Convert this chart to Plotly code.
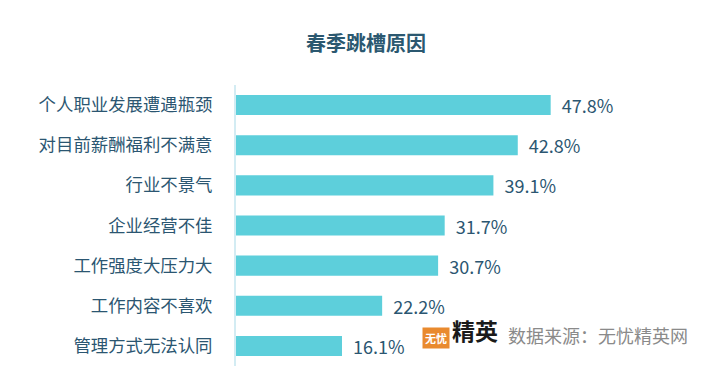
import plotly.graph_objects as go

categories = ["个人职业发展遭遇瓶颈", "对目前薪酬福利不满意", "行业不景气", "企业经营不佳",
              "工作强度大压力大", "工作内容不喜欢", "管理方式无法认同"]
values = [47.8, 42.8, 39.1, 31.7, 30.7, 22.2, 16.1]
title = "春季跳槽原因"
source = "数据来源：无忧精英网"

FONT = "Noto Sans CJK SC"
TXT = "#2b5671"

# page offset compensation (body margin 8px)
OFF = 8
L, T, PW, PH = 236 - OFF, 85 - OFF, 395, 281
W, H = 726, 386


def px(x):
    return (x - OFF - L) / PW


def py(y):
    return (H - (y - OFF) - (H - T - PH)) / PH


fig = go.Figure()
fig.add_trace(go.Bar(
    y=categories, x=values, orientation="h",
    marker=dict(color="#5dcfdb", line=dict(width=0)),
    width=0.5,
    text=[f"{v:.1f}%" for v in values],
    texttemplate="  %{text}",
    textposition="outside",
    constraintext="none",
    textfont=dict(family=FONT, size=18, color=TXT),
    cliponaxis=False,
    hoverinfo="skip",
))

fig.update_layout(
    width=W, height=H,
    margin=dict(l=L, r=W - L - PW, t=T, b=H - T - PH),
    paper_bgcolor="white", plot_bgcolor="white",
    showlegend=False,
    title=dict(text=f"<b>{title}</b>", x=(366 - OFF) / W, xanchor="center", xref="container",
               y=1 - (44 - OFF) / H, yanchor="middle", yref="container",
               font=dict(family=FONT, size=20, color="#2b5870")),
    xaxis=dict(range=[0, 60], visible=False, fixedrange=True),
    yaxis=dict(categoryorder="array", categoryarray=categories, autorange="reversed",
               showline=True, linecolor="#d3ecf3", linewidth=2, ticks="",
               ticklabelstandoff=18, showgrid=False,
               tickfont=dict(family=FONT, size=17.4, color=TXT)),
)

# logo + source
fig.add_annotation(xref="paper", yref="paper", x=px(436), y=py(349),
                   text="<b>无忧</b>", showarrow=False, bgcolor="#e98a2e",
                   font=dict(family=FONT, size=11, color="white"), borderpad=2)
fig.add_annotation(xref="paper", yref="paper", x=px(475), y=py(349),
                   text="<b>精英</b>", showarrow=False,
                   font=dict(family=FONT, size=23, color="#1a1a1a"))
fig.add_annotation(xref="paper", yref="paper", x=px(506), xanchor="left", y=py(350),
                   text=source, showarrow=False,
                   font=dict(family=FONT, size=18, color="#8a8a8a"))

fig.write_html("out.html")
